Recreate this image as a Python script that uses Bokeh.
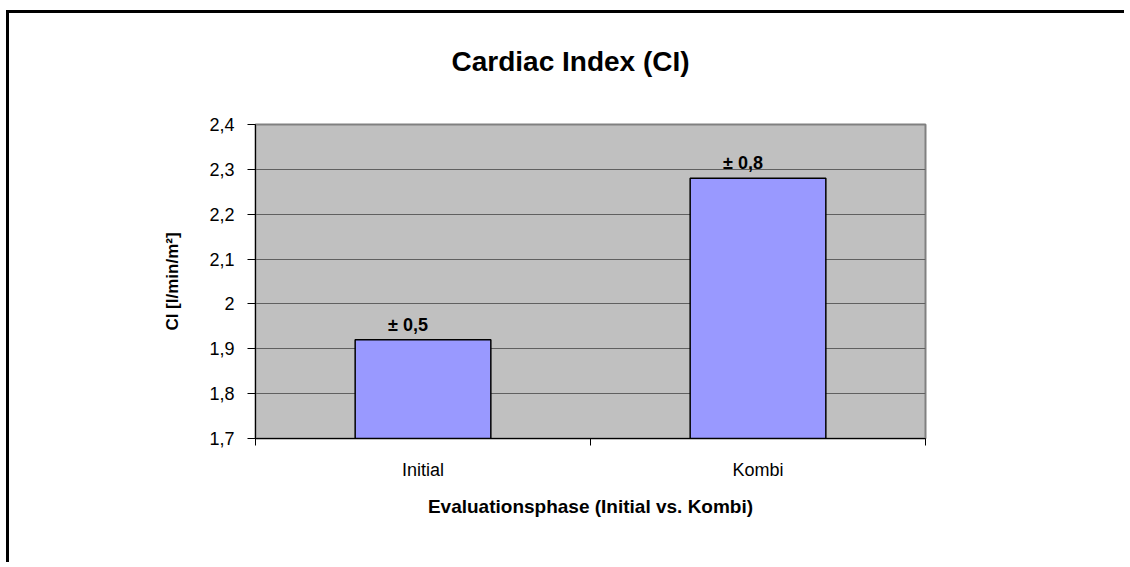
from bokeh.plotting import figure
from bokeh.models import Range1d, FixedTicker, Title
from bokeh.core.properties import value
from bokeh.embed import file_html
from bokeh.resources import INLINE

# ---- data ----
categories = ["Initial", "Kombi"]
ci_values = [1.92, 2.28]
sd_labels = ["± 0,5", "± 0,8"]
y_ticks = [1.7, 1.8, 1.9, 2.0, 2.1, 2.2, 2.3, 2.4]
y_tick_labels = ["1,7", "1,8", "1,9", "2", "2,1", "2,2", "2,3", "2,4"]
title_text = "Cardiac Index (CI)"
x_title = "Evaluationsphase (Initial vs. Kombi)"
y_title = "CI [l/min/m²]"

FONT = "Liberation Sans"
x_pos = [i + 0.5 for i in range(len(categories))]
x_bounds = [float(i) for i in range(len(categories) + 1)]

p = figure(width=1118, height=552, output_backend="svg", toolbar_location=None,
           x_range=Range1d(0, len(categories)),
           y_range=Range1d(y_ticks[0], y_ticks[-1]),
           min_border_left=246, min_border_right=202,
           min_border_top=111, min_border_bottom=127)

p.styles = {"border-left": "3px solid black", "border-top": "3px solid black",
            "margin-left": "6px", "margin-top": "10px"}

p.background_fill_color = "#C0C0C0"
p.border_fill_color = "white"
p.outline_line_color = "#808080"
p.outline_line_width = 2

# title: spacer (nearest to frame) + real title above it
p.title.text = ""
spacer = Title(text=" ", text_font_size="10px", standoff=30)
main_title = Title(text=title_text, text_font=FONT, text_font_size="28px",
                   text_font_style="bold", text_color="black",
                   align="left", offset=196, standoff=10)
p.add_layout(spacer, "above")
p.add_layout(main_title, "above")

# grid
p.xgrid.visible = False
p.ygrid.grid_line_color = "#606060"
p.ygrid.grid_line_width = 1

# y axis
yax = p.yaxis[0]
yax.ticker = FixedTicker(ticks=y_ticks)
yax.major_label_overrides = dict(zip(y_ticks, y_tick_labels))
yax.minor_tick_line_color = None
yax.major_tick_in = 0
yax.major_tick_out = 8
yax.major_tick_line_color = "black"
yax.axis_line_color = "black"
yax.major_label_standoff = 13
yax.major_label_text_font = FONT
yax.major_label_text_font_size = "18px"
yax.major_label_text_color = "black"
yax.axis_label = y_title
yax.axis_label_text_font = FONT
yax.axis_label_text_font_size = "17px"
yax.axis_label_text_font_style = "bold"
yax.axis_label_text_color = "black"
yax.axis_label_standoff = 24

# x axis
xax = p.xaxis[0]
xax.ticker = FixedTicker(ticks=x_pos, minor_ticks=x_bounds)
xax.major_label_overrides = dict(zip(x_pos, categories))
xax.major_tick_in = 0
xax.major_tick_out = 0
xax.major_tick_line_color = None
xax.minor_tick_in = 0
xax.minor_tick_out = 7
xax.minor_tick_line_color = "black"
xax.axis_line_color = "black"
xax.major_label_standoff = 14
xax.major_label_text_font = FONT
xax.major_label_text_font_size = "18px"
xax.major_label_text_color = "black"
xax.axis_label = x_title
xax.axis_label_text_font = FONT
xax.axis_label_text_font_size = "19px"
xax.axis_label_text_font_style = "bold"
xax.axis_label_text_color = "black"
xax.axis_label_standoff = 13

# bars
p.vbar(x=x_pos, top=ci_values, bottom=y_ticks[0], width=0.405,
       fill_color="#9999FF", line_color="black", line_width=1.5)

# SD labels
p.text(x=x_pos, y=ci_values, text=sd_labels, text_align="center",
       text_baseline="bottom", x_offset=-15, y_offset=-5,
       text_font=value(FONT), text_font_size="18px", text_font_style="bold",
       text_color="black")

open("out.html", "w").write(file_html(p, INLINE))
